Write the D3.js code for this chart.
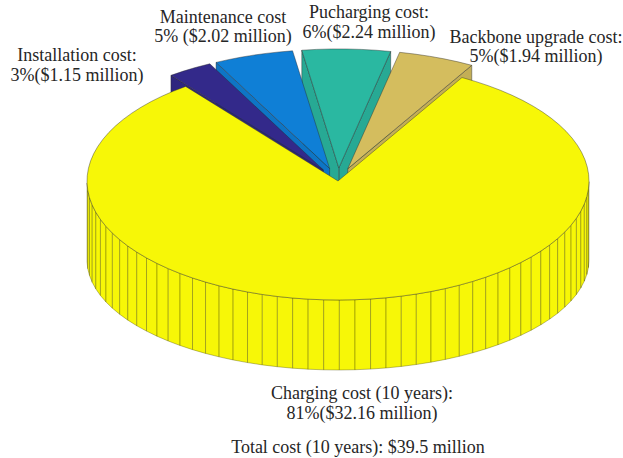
<!DOCTYPE html>
<html>
<head>
<meta charset="utf-8">
<script src="https://cdn.jsdelivr.net/npm/d3@7"></script>
<style>
  html, body { margin: 0; padding: 0; background: #ffffff; }
  svg { display: block; }
  text { font-family: "Liberation Serif", "Times New Roman", "DejaVu Serif", serif; fill: #262626; }
</style>
</head>
<body>
<svg id="chart" width="623" height="458"></svg>
<script>
// ---- data (counter-clockwise order starting at the right of the gap) ----
const categories = ["Backbone upgrade cost", "Pucharging cost", "Maintenance cost", "Installation cost", "Charging cost (10 years)"];
const values = [1.94, 2.24, 2.02, 1.15, 32.16];            // $ million
const percents = ["5%", "6%", "5%", "3%", "81%"];
const exploded = [true, true, true, true, false];
const colors = ["#d4bd5e", "#2ab8a1", "#0f7fd6", "#33298a", "#f7f707"];
const labelLine1 = ["Backbone upgrade cost:", "Pucharging cost:", "Maintenance cost", "Installation cost:", "Charging cost (10 years):"];
const labelLine2 = ["5%($1.94 million)", "6%($2.24 million)", "5% ($2.02 million)", "3%($1.15 million)", "81%($32.16 million)"];
const totalLabel = "Total cost (10 years): $39.5 million";

// ---- geometry ----
const svg = d3.select("#chart");
const cx = 338, a = 251, cyT = 181, bT = 119, cyB = 260, bB = 110;
const x = d3.scaleLinear().domain([-1, 1]).range([cx - a, cx + a]);
const yT = d3.scaleLinear().domain([-1, 1]).range([cyT + bT, cyT - bT]);
const yB = d3.scaleLinear().domain([-1, 1]).range([cyB + bB, cyB - bB]);
const phi0 = 60.4 * Math.PI / 180;
const explodeR = 0.11;
const STEP = 2 * Math.PI / 100;

const arcs = d3.pie().sort(null).value(d => d)(values);

function shade(c, k) {
  const col = d3.rgb(c);
  return d3.rgb(col.r * k, col.g * k, col.b * k).formatHex();
}

const slices = arcs.map((p, i) => {
  const s = phi0 + p.startAngle, e = phi0 + p.endAngle, mid = (s + e) / 2;
  const ox = exploded[i] ? explodeR * Math.cos(mid) : 0;
  const oy = exploded[i] ? explodeR * Math.sin(mid) : 0;
  const n = Math.max(1, Math.ceil((e - s) / STEP));
  const angles = d3.range(n + 1).map(k => s + k * (e - s) / n);
  return { i, s, e, mid, ox, oy, angles };
});

const order = slices.slice().sort((p, q) => Math.sin(q.mid) - Math.sin(p.mid));
const line = d3.line();
const g = svg.append("g");

order.forEach(sl => {
  const col = colors[sl.i];
  const T = (u, v) => [x(u + sl.ox), yT(v + sl.oy)];
  const B = (u, v) => [x(u + sl.ox), yB(v + sl.oy)];
  const gs = g.append("g");
  // radial faces
  const faces = [];
  if (Math.cos(sl.s) > 0) faces.push(sl.s);
  if (Math.cos(sl.e) < 0) faces.push(sl.e);
  faces.forEach(ang => {
    const u = Math.cos(ang), v = Math.sin(ang);
    const poly = [T(0, 0), T(u, v), B(u, v), B(0, 0)];
    gs.append("path").attr("d", line(poly) + "Z")
      .attr("fill", shade(col, 0.92)).attr("stroke", "#2a2a2a")
      .attr("stroke-width", 0.6).attr("stroke-opacity", 0.75);
  });
  // outer wall (front-facing segments)
  for (let k = 0; k < sl.angles.length - 1; k++) {
    const a0 = sl.angles[k], a1 = sl.angles[k + 1];
    if (Math.sin((a0 + a1) / 2) >= 0) continue;
    const poly = [T(Math.cos(a0), Math.sin(a0)), T(Math.cos(a1), Math.sin(a1)),
                  B(Math.cos(a1), Math.sin(a1)), B(Math.cos(a0), Math.sin(a0))];
    gs.append("path").attr("d", line(poly) + "Z")
      .attr("fill", col).attr("stroke", "#4a4a00")
      .attr("stroke-width", 0.6).attr("stroke-opacity", 0.6)
      .attr("stroke-linejoin", "round");
  }
  // top face
  const top = [T(0, 0)].concat(sl.angles.map(t => T(Math.cos(t), Math.sin(t))));
  gs.append("path").attr("d", line(top) + "Z")
    .attr("fill", col).attr("stroke", "#2a2a2a")
    .attr("stroke-width", 0.6).attr("stroke-opacity", 0.7)
    .attr("stroke-linejoin", "round");
});

// ---- labels ----
const labelPos = [
  { x: 536, y: 43, dy: 19 },
  { x: 369, y: 18, dy: 20 },
  { x: 223, y: 23, dy: 19 },
  { x: 77, y: 61, dy: 20 },
  { x: 362, y: 399, dy: 20 }
];
const fs = 18;
labelPos.forEach((pos, i) => {
  const t = svg.append("text").attr("text-anchor", "middle")
    .attr("font-size", fs).attr("x", pos.x).attr("y", pos.y);
  t.append("tspan").attr("x", pos.x).attr("y", pos.y).text(labelLine1[i]);
  t.append("tspan").attr("x", pos.x).attr("y", pos.y + pos.dy).text(labelLine2[i]);
});
svg.append("text").attr("text-anchor", "middle").attr("font-size", fs)
  .attr("x", 358).attr("y", 453).text(totalLabel);
</script>
</body>
</html>
